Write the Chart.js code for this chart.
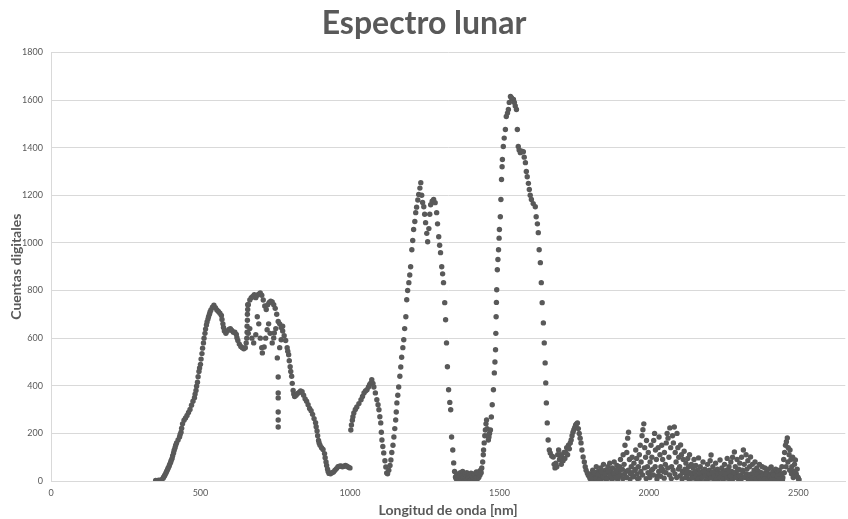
<!DOCTYPE html>
<html>
<head>
<meta charset="utf-8">
<script src="https://cdn.jsdelivr.net/npm/chart.js@4.4.1/dist/chart.umd.min.js"></script>
<style>
  html, body { margin: 0; padding: 0; background: #ffffff; }
  #spectrumChart { display: block; }
</style>
</head>
<body>
<canvas id="spectrumChart" width="848" height="519"></canvas>
<script>
// [longitud de onda nm, cuentas digitales]
const visible = [
  [350,2],[355,1],[360,3],[365,2],[370,5],[375,12],[377,17],[380,22],[382,28],[385,35],[387,41],[390,48],[392,55],[395,62],
  [397,70],[400,78],[402,86],[405,95],[407,106],[410,118],[412,129],[415,140],[417,150],[420,160],[425,172],[430,185],[432,195],[435,205],[437,222],[440,240],[445,255],
  [450,265],[455,275],[460,288],[465,300],[470,318],[475,335],[480,350],[482,365],[485,380],[487,398],[490,415],[492,438],[495,460],[497,475],
  [500,490],[502,512],[505,535],[507,558],[510,580],[512,600],[515,620],[517,638],[520,655],[522,668],[525,680],[527,690],[530,700],[532,710],[535,718],[540,730],[545,738],
  [550,728],[555,718],[560,712],[565,705],[570,695],[572,678],[575,660],[577,645],[580,630],[585,620],[590,630],[595,636],
  [600,640],[605,632],[610,625],[615,625],[620,615],[622,602],[625,590],[630,575],[635,565],[640,560],[645,555],
  [650,560],[653,580],[655,600],[656,625],[656,650],[657,675],[657,700],[658,720],[658,740]
];

const red = [
  [660,740],[665,760],[670,770],[675,775],[680,782],[685,770],[690,780],[695,785],[700,790],[705,780],
  [710,760],[715,735],[720,720],[725,740],[730,750],[735,755],[740,752],[745,740],[750,725],[755,700],
  [760,670],[765,660],[770,645],[775,630],[780,610],[785,590],[790,560],[792,545],[795,530],[797,505],[800,480],[802,460],[805,440],[807,410],
  [810,380],[812,365],[815,355],[820,360],[825,368],[830,372],[835,378],[840,375],[845,360],[850,345],[855,335],
  [860,320],[865,305],[870,295],[875,280],[880,262],[885,245],[887,228],[890,210],[892,190],[895,170],[897,160],[900,150],[905,140],
  [910,132],[915,115],[917,98],[920,80],[922,65],[925,50],[927,40],[930,32],[935,30],[940,35],[945,38],[950,45],[955,52],
  [960,60],[965,62],[970,63],[975,60],[980,62],[985,65],[990,62],[995,58],[1000,55]
];

const redScatter = [
  [660,620],[665,640],[672,600],[678,580],[685,614],[690,690],[695,660],[700,600],[705,560],[707,538],
  [713,563],[718,600],[723,635],[728,660],[733,620],[740,580],[745,601],[747,622],[752,640],[757,517],
  [760,437],[760,370],[760,349],[760,290],[760,256],[760,227],[765,560],[770,593],[775,650]
];

const nir1 = [
  [1003,214],[1005,235],[1008,255],[1010,270],[1013,286],[1018,300],[1023,311],[1030,325],[1037,341],[1042,355],[1047,370],
  [1052,378],[1057,383],[1062,395],[1066,405],[1070,412],[1073,425],[1077,410],[1080,395],[1085,370],[1090,341],
  [1094,320],[1097,299],[1100,270],[1103,244],[1105,205],[1107,172],[1110,145],[1113,118],[1117,85],[1120,59],
  [1123,34],[1126,30],[1130,45],[1134,65],[1137,88],[1140,120],[1144,150],[1147,185],[1150,220],[1153,256],
  [1155,290],[1157,328],[1160,360],[1163,395],[1167,440],[1170,479],[1173,520],[1177,560],[1180,593],[1183,640],
  [1187,690],[1190,761],[1193,800],[1197,833],[1200,865],[1203,900],[1207,971],[1210,1010],[1213,1056],[1217,1090],
  [1220,1127],[1223,1150],[1227,1180],[1230,1203],[1234,1230],[1237,1253],[1240,1200],[1243,1170],[1247,1152],[1250,1120],
  [1253,1085],[1257,1040],[1260,1005],[1264,1060],[1267,1120],[1270,1160],[1275,1175],[1280,1182],[1285,1169],[1290,1127],
  [1293,1080],[1297,1026],[1300,990],[1303,959],[1307,900],[1310,870],[1313,833],[1317,749],[1320,677],[1323,580],
  [1326,480],[1330,383],[1334,330],[1337,299],[1340,185],[1344,130],[1347,76],[1350,40],[1353,17]
];

const band1400 = [
  [1355,10],[1357,25],[1359,5],[1361,30],[1363,15],[1365,0],[1367,20],[1369,35],[1371,10],[1373,5],
  [1375,25],[1377,40],[1379,15],[1381,0],[1383,20],[1385,30],[1387,8],[1389,15],[1391,35],[1393,5],
  [1395,20],[1397,12],[1399,28],[1401,3],[1403,18],[1405,33],[1407,10],[1409,22],[1411,0],[1413,15],
  [1415,30],[1417,8],[1419,25],[1421,12],[1423,38],[1425,5],[1427,20],[1429,30],[1431,15],[1433,40],
  [1435,25],[1437,45],[1439,35],[1441,55]
];

const nir2 = [
  [1444,80],[1446,110],[1447,130],[1449,160],[1451,190],[1453,214],[1455,240],[1457,256],[1459,220],[1461,190],
  [1463,172],[1465,185],[1467,200],[1470,214],[1473,269],[1476,320],[1480,383],[1483,454],[1485,500],[1487,551],
  [1488,620],[1489,690],[1490,750],[1491,803],[1493,887],[1495,930],[1497,971],[1499,1020],[1500,1056],[1503,1110],
  [1505,1182],[1507,1266],[1509,1320],[1510,1350],[1513,1405],[1516,1440],[1520,1476],[1523,1531],[1527,1545],[1530,1560],
  [1533,1590],[1537,1615],[1540,1610],[1543,1605],[1547,1602],[1550,1590],[1553,1575],[1557,1560],[1560,1476],[1563,1405],
  [1566,1390],[1570,1379],[1575,1385],[1580,1383],[1583,1360],[1587,1337],[1590,1300],[1593,1278],[1597,1250],[1600,1224],
  [1603,1200],[1607,1182],[1613,1165],[1620,1152],[1623,1110],[1627,1080],[1630,1043],[1633,971],[1637,917],[1640,833],
  [1643,749],[1647,664],[1650,580],[1653,496],[1655,412],[1657,328],[1660,244],[1663,172],[1667,130],[1670,118],
  [1675,105],[1680,101]
];

const band1750 = [
  [1683,70],[1686,55],[1689,75],[1692,60],[1695,110],[1698,130],[1701,90],[1704,110],[1707,70],[1710,100],
  [1713,85],[1716,120],[1719,95],[1722,120],[1725,140],[1728,110],[1731,150],[1734,135],[1737,160],[1740,172],
  [1743,190],[1746,205],[1749,215],[1752,225],[1755,235],[1758,240],[1761,244],[1764,220],[1767,200],[1770,180],
  [1773,160],[1776,130],[1780,101],[1784,80],[1787,60],[1790,45],[1794,34],[1797,25],[1800,20]
];

const swir = [
  [1803,10],[1806,30],[1809,5],[1812,45],[1815,20],[1818,0],[1821,35],[1824,60],[1827,15],[1830,40],
  [1833,5],[1836,25],[1839,55],[1842,10],[1845,30],[1848,70],[1851,20],[1854,45],[1857,5],[1860,35],
  [1863,60],[1866,15],[1869,75],[1872,40],[1875,10],[1878,55],[1881,30],[1884,80],[1887,20],[1890,45],
  [1893,65],[1896,5],[1899,35],[1902,60],[1905,90],[1908,25],[1911,50],[1914,110],[1917,70],[1920,150],
  [1923,40],[1926,120],[1929,180],[1932,205],[1935,90],[1938,30],[1941,60],[1944,100],[1947,20],[1950,75],
  [1953,45],[1956,130],[1959,95],[1962,10],[1965,60],[1968,110],[1971,150],[1974,80],[1977,190],[1980,215],
  [1983,240],[1986,140],[1989,100],[1992,170],[1995,60],[1998,120],[2001,30],[2004,80],[2007,150],[2010,100],
  [2013,50],[2016,170],[2019,200],[2022,130],[2025,90],[2028,20],[2031,140],[2034,185],[2037,110],[2040,60],
  [2043,150],[2046,90],[2049,40],[2052,120],[2055,70],[2058,160],[2061,200],[2064,180],[2067,100],[2070,223],
  [2073,140],[2076,60],[2079,190],[2082,160],[2085,227],[2088,120],[2091,80],[2094,200],[2097,140],[2100,100],
  [2103,60],[2106,151],[2109,110],[2112,40],[2115,90],[2118,125],[2121,50],[2124,75],[2127,20],[2130,95],
  [2133,60],[2136,110],[2139,35],[2142,70],[2145,15],[2148,55],[2151,90],[2154,30],[2157,65],[2160,5],
  [2163,45],[2166,97],[2169,25],[2172,60],[2175,10],[2178,40],[2181,80],[2184,20],[2187,50],[2190,0],
  [2193,35],[2196,70],[2199,15],[2202,45],[2205,85],[2208,109],[2211,30],[2214,60],[2217,10],[2220,40],
  [2223,75],[2226,20],[2229,50],[2232,5],[2235,35],[2238,88],[2241,25],[2244,55],[2247,10],[2250,40],
  [2253,70],[2256,15],[2259,45],[2262,95],[2265,30],[2268,60],[2271,5],[2274,80],[2277,40],[2280,100],
  [2283,20],[2286,122],[2289,60],[2292,35],[2295,90],[2298,10],[2301,50],[2304,75],[2307,25],[2310,100],
  [2313,45],[2316,130],[2319,70],[2322,15],[2325,110],[2328,50],[2331,85],[2334,20],[2337,60],[2340,101],
  [2343,30],[2346,70],[2349,5],[2352,45],[2355,80],[2358,20],[2361,55],[2364,10],[2367,40],[2370,70],
  [2373,15],[2376,35],[2379,60],[2382,5],[2385,30],[2388,55],[2391,10],[2394,40],[2397,20],[2400,50],
  [2403,5],[2406,30],[2409,59],[2412,15],[2415,40],[2418,0],[2421,25],[2424,50],[2427,10],[2430,35],
  [2433,20],[2436,45],[2439,5],[2442,30],[2445,60],[2448,15],[2451,90],[2454,120],[2457,150],[2460,165],
  [2463,181],[2466,140],[2469,110],[2472,130],[2475,90],[2478,60],[2481,100],[2484,40],[2487,70],[2490,88],
  [2493,30],[2496,50],[2499,15],[2502,5]
];

const swirFloor = [
  [1805,20],[1811,8],[1817,35],[1823,12],[1829,28],[1835,4],[1841,38],[1847,18],[1853,30],[1859,10],
  [1865,42],[1871,22],[1877,6],[1883,33],[1889,14],[1895,40],[1901,20],[1907,48],[1913,10],[1919,30],
  [1925,15],[1931,45],[1937,8],[1943,35],[1949,18],[1955,50],[1961,30],[1967,12],[1973,40],[1979,25],
  [1985,55],[1991,10],[1997,35],[2003,15],[2009,45],[2015,25],[2021,60],[2027,8],[2033,40],[2039,20],
  [2045,50],[2051,12],[2057,35],[2063,55],[2069,25],[2075,10],[2081,45],[2087,30],[2093,15],[2099,50],
  [2105,22],[2111,8],[2117,35],[2123,15],[2129,40],[2135,5],[2141,28],[2147,12],[2153,38],[2159,20],
  [2165,8],[2171,32],[2177,15],[2183,40],[2189,22],[2195,5],[2201,30],[2207,12],[2213,38],[2219,20],
  [2225,6],[2231,30],[2237,15],[2243,35],[2249,8],[2255,28],[2261,12],[2267,40],[2273,20],[2279,5],
  [2285,35],[2291,15],[2297,45],[2303,22],[2309,8],[2315,38],[2321,18],[2327,30],[2333,5],[2339,25],
  [2345,12],[2351,32],[2357,8],[2363,28],[2369,15],[2375,5],[2381,22],[2387,10],[2393,30],[2399,4],
  [2405,18],[2411,8],[2417,25],[2423,5],[2429,20],[2435,10],[2441,28],[2447,6],[2453,35],[2459,60],
  [2465,80],[2471,45],[2477,30],[2483,15],[2489,40],[2495,20],[2501,8]
];

const yTicks = [0, 200, 400, 600, 800, 1000, 1200, 1400, 1600, 1800];
const xTicks = [0, 500, 1000, 1500, 2000, 2500];

const grey = "#595959";
const points = [visible, red, redScatter, nir1, band1400, nir2, band1750, swir, swirFloor]
  .flat()
  .map(p => ({ x: p[0], y: p[1] }));

const ctx = document.getElementById("spectrumChart").getContext("2d");
const chart = new Chart(ctx, {
  type: "scatter",
  data: {
    datasets: [
      {
        label: "Espectro",
        data: points,
        backgroundColor: grey,
        borderWidth: 0,
        pointRadius: 2.7,
        pointHoverRadius: 2.7,
      },
    ],
  },
  options: {
    responsive: false,
    animation: false,
    devicePixelRatio: 1,
    layout: { padding: { left: 0, right: 0, top: 0, bottom: 0 } },
    plugins: {
      legend: { display: false },
      tooltip: { enabled: false },
      title: {
        display: true,
        text: "Espectro lunar",
        color: grey,
        font: { family: "Lato", size: 32, weight: "bold" },
        padding: { top: 4, bottom: 10 },
      },
    },
    scales: {
      x: {
        type: "linear",
        min: 0,
        max: 2657,
        afterBuildTicks: s => { s.ticks = xTicks.map(v => ({ value: v })); },
        afterFit: s => { s.height = 38; },
        grid: { display: false, drawTicks: false },
        border: { display: true, color: "#d9d9d9", width: 1 },
        ticks: {
          color: grey,
          font: { family: "Lato", size: 9 },
          padding: 7,
          maxRotation: 0,
          callback: v => String(v),
        },
        title: {
          display: true,
          text: "Longitud de onda [nm]",
          color: grey,
          font: { family: "Lato", size: 14, weight: "bold" },
          padding: { top: 0, bottom: 0 },
        },
      },
      y: {
        min: 0,
        max: 1800,
        afterBuildTicks: s => { s.ticks = yTicks.map(v => ({ value: v })); },
        afterFit: s => { s.width = 51; },
        grid: { color: "#d9d9d9", lineWidth: 1, drawTicks: false },
        border: { display: true, color: "#d9d9d9", width: 1 },
        ticks: {
          color: grey,
          font: { family: "Lato", size: 9 },
          padding: 8,
          callback: v => String(v),
        },
        title: {
          display: true,
          text: "Cuentas digitales",
          color: grey,
          font: { family: "Lato", size: 14, weight: "bold" },
          padding: { top: 8, bottom: 0 },
        },
      },
    },
  },
});
</script>
</body>
</html>
